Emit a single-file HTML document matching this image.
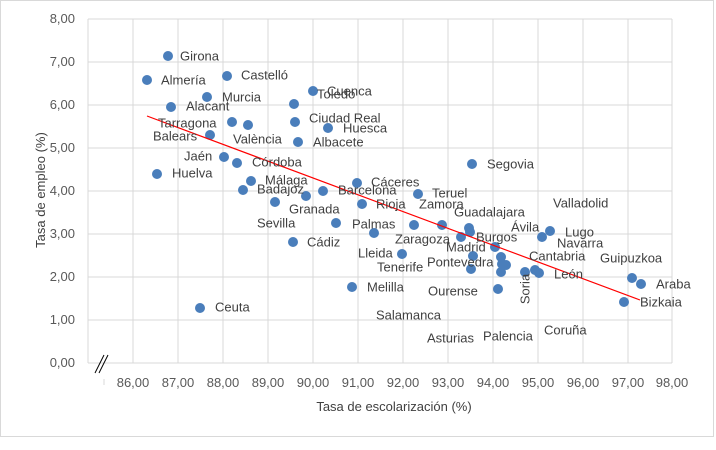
<!DOCTYPE html><html><head><meta charset="utf-8"><style>body{margin:0;background:#fff}svg{display:block;font-family:"Liberation Sans",sans-serif}</style></head><body>
<svg width="716" height="450" viewBox="0 0 716 450">
<rect x="0.5" y="0.5" width="713" height="436" fill="#fff" stroke="#d9d9d9"/>
<g stroke="#d9d9d9" stroke-width="1">
<line x1="88" y1="19" x2="672" y2="19"/><line x1="88" y1="62" x2="672" y2="62"/><line x1="88" y1="105" x2="672" y2="105"/><line x1="88" y1="148" x2="672" y2="148"/><line x1="88" y1="191" x2="672" y2="191"/><line x1="88" y1="234" x2="672" y2="234"/><line x1="88" y1="277" x2="672" y2="277"/><line x1="88" y1="320" x2="672" y2="320"/><line x1="88" y1="363" x2="672" y2="363"/>
<line x1="88" y1="19" x2="88" y2="363"/>
<line x1="133" y1="19" x2="133" y2="363"/><line x1="178" y1="19" x2="178" y2="363"/><line x1="223" y1="19" x2="223" y2="363"/><line x1="268" y1="19" x2="268" y2="363"/><line x1="313" y1="19" x2="313" y2="363"/><line x1="358" y1="19" x2="358" y2="363"/><line x1="403" y1="19" x2="403" y2="363"/><line x1="448" y1="19" x2="448" y2="363"/><line x1="493" y1="19" x2="493" y2="363"/><line x1="538" y1="19" x2="538" y2="363"/><line x1="583" y1="19" x2="583" y2="363"/><line x1="628" y1="19" x2="628" y2="363"/><line x1="672" y1="19" x2="672" y2="363"/>
<line x1="104" y1="379" x2="104" y2="385"/>
</g>
<g stroke="#000" stroke-width="1"><line x1="95" y1="373" x2="104" y2="355"/><line x1="99" y1="373" x2="108" y2="355"/></g>
<g fill="#595959" font-size="13" text-anchor="end">
<text x="75" y="23">8,00</text><text x="75" y="66">7,00</text><text x="75" y="109">6,00</text><text x="75" y="152">5,00</text><text x="75" y="195">4,00</text><text x="75" y="238">3,00</text><text x="75" y="281">2,00</text><text x="75" y="324">1,00</text><text x="75" y="367">0,00</text>
</g>
<g fill="#595959" font-size="13" text-anchor="middle">
<text x="133" y="387">86,00</text><text x="178" y="387">87,00</text><text x="223" y="387">88,00</text><text x="268" y="387">89,00</text><text x="313" y="387">90,00</text><text x="358" y="387">91,00</text><text x="403" y="387">92,00</text><text x="448" y="387">93,00</text><text x="493" y="387">94,00</text><text x="538" y="387">95,00</text><text x="583" y="387">96,00</text><text x="628" y="387">97,00</text><text x="672" y="387">98,00</text>
</g>
<text x="394" y="411" fill="#404040" font-size="13" text-anchor="middle">Tasa de escolarización (%)</text>
<text transform="translate(45,190) rotate(-90)" fill="#404040" font-size="13" text-anchor="middle">Tasa de empleo (%)</text>
<g fill="#4a7ebb">
<circle cx="168" cy="56" r="5"/><circle cx="147" cy="80" r="5"/><circle cx="227" cy="76" r="5"/><circle cx="207" cy="97" r="5"/><circle cx="171" cy="107" r="5"/><circle cx="313" cy="91" r="5"/><circle cx="294" cy="104" r="5"/><circle cx="232" cy="122" r="5"/><circle cx="248" cy="125" r="5"/><circle cx="295" cy="122" r="5"/><circle cx="328" cy="128" r="5"/><circle cx="210" cy="135" r="5"/><circle cx="298" cy="142" r="5"/><circle cx="224" cy="157" r="5"/><circle cx="237" cy="163" r="5"/><circle cx="157" cy="174" r="5"/><circle cx="251" cy="181" r="5"/><circle cx="243" cy="190" r="5"/><circle cx="306" cy="196" r="5"/><circle cx="323" cy="191" r="5"/><circle cx="357" cy="183" r="5"/><circle cx="275" cy="202" r="5"/><circle cx="362" cy="204" r="5"/><circle cx="418" cy="194" r="5"/><circle cx="336" cy="223" r="5"/><circle cx="374" cy="233" r="5"/><circle cx="414" cy="225" r="5"/><circle cx="442" cy="225" r="5"/><circle cx="293" cy="242" r="5"/><circle cx="402" cy="254" r="5"/><circle cx="469" cy="228" r="5"/><circle cx="470" cy="232" r="5"/><circle cx="461" cy="237" r="5"/><circle cx="495" cy="247" r="5"/><circle cx="473" cy="256" r="5"/><circle cx="501" cy="257" r="5"/><circle cx="502" cy="264" r="5"/><circle cx="506" cy="265" r="5"/><circle cx="501" cy="272" r="5"/><circle cx="471" cy="269" r="5"/><circle cx="352" cy="287" r="5"/><circle cx="498" cy="289" r="5"/><circle cx="472" cy="164" r="5"/><circle cx="525" cy="272" r="5"/><circle cx="535" cy="270" r="5"/><circle cx="539" cy="273" r="5"/><circle cx="542" cy="237" r="5"/><circle cx="550" cy="231" r="5"/><circle cx="632" cy="278" r="5"/><circle cx="641" cy="284" r="5"/><circle cx="624" cy="302" r="5"/><circle cx="200" cy="308" r="5"/>
</g>
<line x1="147" y1="116" x2="640" y2="300" stroke="#ff0000" stroke-width="1.2"/>
<g fill="#404040" font-size="13" dominant-baseline="middle">
<text x="180" y="57">Girona</text><text x="161" y="81">Almería</text><text x="241" y="76">Castelló</text><text x="222" y="98">Murcia</text><text x="186" y="107">Alacant</text><text x="327" y="92">Cuenca</text><text x="317" y="95">Toledo</text><text x="158" y="124">Tarragona</text><text x="309" y="119">Ciudad Real</text><text x="343" y="129">Huesca</text><text x="153" y="137">Balears</text><text x="233" y="140">València</text><text x="313" y="143">Albacete</text><text x="184" y="157">Jaén</text><text x="252" y="163">Córdoba</text><text x="172" y="174">Huelva</text><text x="265" y="181">Málaga</text><text x="257" y="190">Badajoz</text><text x="338" y="191">Barcelona</text><text x="371" y="183">Cáceres</text><text x="289" y="210">Granada</text><text x="487" y="165">Segovia</text><text x="432" y="194">Teruel</text><text x="376" y="205">Rioja</text><text x="419" y="205">Zamora</text><text x="257" y="224">Sevilla</text><text x="352" y="225">Palmas</text><text x="307" y="243">Cádiz</text><text x="395" y="240">Zaragoza</text><text x="358" y="254">Lleida</text><text x="377" y="268">Tenerife</text><text x="367" y="288">Melilla</text><text x="376" y="316">Salamanca</text><text x="427" y="339">Asturias</text><text x="428" y="292">Ourense</text><text x="427" y="263">Pontevedra</text><text x="446" y="248">Madrid</text><text x="476" y="238">Burgos</text><text x="454" y="213">Guadalajara</text><text x="511" y="228">Ávila</text><text x="565" y="233">Lugo</text><text x="553" y="204">Valladolid</text><text x="557" y="244">Navarra</text><text x="529" y="257">Cantabria</text><text x="600" y="259">Guipuzkoa</text><text x="554" y="275">León</text><text x="656" y="285">Araba</text><text x="640" y="303">Bizkaia</text><text x="544" y="331">Coruña</text><text x="483" y="337">Palencia</text><text x="215" y="308">Ceuta</text>
<text transform="translate(526,289) rotate(-90)" text-anchor="middle">Soria</text>
</g>
</svg>
</body></html>
